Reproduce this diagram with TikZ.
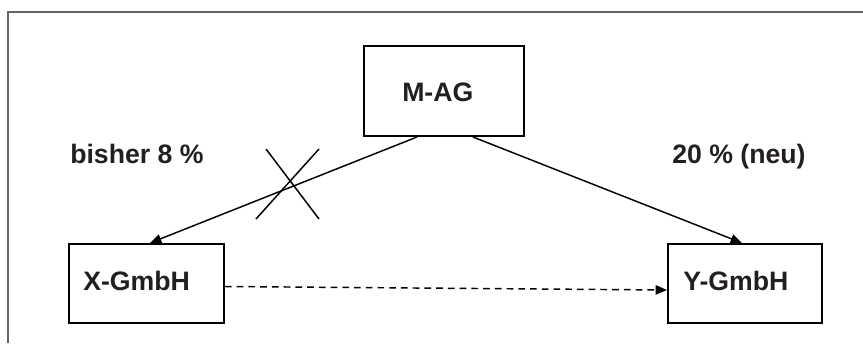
\documentclass[tikz,border=0pt]{standalone}
\usepackage{fontspec}
\setmainfont{Liberation Sans}
\usetikzlibrary{arrows.meta,calc}
\definecolor{ink}{HTML}{231F20}
\definecolor{framegray}{HTML}{666666}
\tikzset{
  box/.style={draw=black, line width=1.5pt, fill=white, inner sep=0pt, anchor=north west},
  lbl/.style={anchor=base west, inner sep=0pt, text=ink, font=\fontsize{20}{24}\selectfont\bfseries},
  conn/.style={draw=black, line width=1.1pt, -{Triangle[length=8.5pt,width=7pt]}},
  dconn/.style={conn, dash pattern=on 5pt off 3.8pt},
  crossline/.style={draw=black, line width=1.1pt},
}
\begin{document}
\begin{tikzpicture}[x=0.75pt,y=-0.75pt]
\useasboundingbox (0,0) rectangle (863,343);
% frame
\draw[framegray, line width=1.5pt] (8,343) -- (8,12) -- (863,12);
% boxes
\node[box, minimum width=160*0.75pt, minimum height=90*0.75pt] (m) at (363,45) {};
\node[box, minimum width=155*0.75pt, minimum height=79*0.75pt] (x) at (68,243) {};
\node[box, minimum width=154*0.75pt, minimum height=79*0.75pt] (y) at (667,243) {};
% labels
\node[lbl] (mt) at (402,101) {M-AG};
\node[lbl] (xt) at (83,290) {X-GmbH};
\node[lbl] (yt) at (683,290) {Y-GmbH};
\node[lbl] (bisher) at (70,163) {bisher 8 \%};
\node[lbl] (neu) at (672,163) {20 \% (neu)};
% connectors
\draw[conn] ($(m.south west)+(54,0)$) -- ($(x.north west)+(82,0)$);
\draw[conn] ($(m.south west)+(110,0)$) -- ($(y.north west)+(75,0)$);
\draw[dconn] ($(x.east)+(0,3)$) -- ($(y.west)+(0,6.5)$);
% cross
\coordinate (c1) at (266,149);
\coordinate (c2) at (319,219);
\coordinate (c3) at (319,149);
\coordinate (c4) at (256,219);
\draw[crossline] (c1) -- (c2);
\draw[crossline] (c3) -- (c4);
\end{tikzpicture}
\end{document}
